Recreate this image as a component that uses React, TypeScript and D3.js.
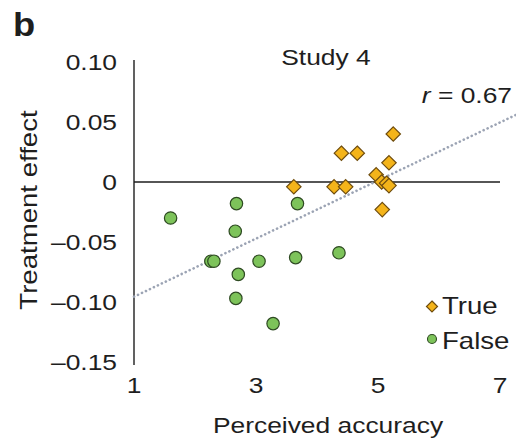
import React from "react";
import * as d3 from "d3";

// Study 4: perceived accuracy vs. treatment effect per headline
const trueX = [3.62, 4.28, 4.47, 4.40, 4.66, 5.25, 5.18, 4.97, 5.06, 5.14, 5.18, 5.07];
const trueY = [-0.004, -0.004, -0.004, 0.024, 0.024, 0.040, 0.016, 0.006, 0.000, -0.001, -0.003, -0.023];
const falseX = [1.60, 2.68, 2.66, 2.26, 2.31, 3.05, 2.71, 2.67, 3.28, 3.65, 3.68, 4.36];
const falseY = [-0.030, -0.018, -0.041, -0.066, -0.066, -0.066, -0.077, -0.097, -0.118, -0.063, -0.018, -0.059];
const xTicks = [1, 3, 5, 7];
const yTicks = [0.1, 0.05, 0, -0.05, -0.1, -0.15];
const fitLine = [
  { x: 1, y: -0.0956 },
  { x: 7.4, y: 0.0593 },
];
const correlation = "0.67";

const W = 516;
const H = 441;
const FONT = "'Liberation Sans', Arial, Helvetica, sans-serif";
const INK = "#1e1e1e";
const ORANGE = "#F4B41A";
const ORANGE_STROKE = "#6E4C0E";
const GREEN = "#7DC35A";
const GREEN_STROKE = "#2E4A22";
const STRETCH = 1.2;

type LabelProps = {
  x: number;
  y: number;
  size: number;
  anchor?: "start" | "middle" | "end";
  rotate?: number;
  stretch?: number;
  weight?: string;
  children: React.ReactNode;
};

// Text with a slightly widened face
function Label({ x, y, size, anchor = "start", rotate = 0, stretch = STRETCH, weight, children }: LabelProps) {
  return (
    <text
      transform={`translate(${x},${y}) rotate(${rotate}) scale(${stretch},1)`}
      fontSize={size}
      textAnchor={anchor}
      fontWeight={weight}
      fill={INK}
    >
      {children}
    </text>
  );
}

export default function App() {
  const x = d3.scaleLinear().domain([1, 7]).range([134, 500]);
  const y = d3.scaleLinear().domain([-0.15, 0.1]).range([362, 62]);
  const diamond = (cx: number, cy: number, r: number) =>
    `M${cx},${cy - r}L${cx + r},${cy}L${cx},${cy + r}L${cx - r},${cy}Z`;
  const line = d3
    .line<{ x: number; y: number }>()
    .x((d) => x(d.x))
    .y((d) => y(d.y));
  const fmt = (v: number) =>
    v === 0 ? "0" : (v < 0 ? "\u2013" : "") + Math.abs(v).toFixed(2);

  return (
    <svg
      width={W}
      height={H}
      style={{ position: "absolute", left: 0, top: 0, background: "#fff" }}
      fontFamily={FONT}
    >
      <defs>
        <clipPath id="plotClip">
          <rect x={0} y={0} width={W} height={H} />
        </clipPath>
      </defs>
      <Label x={13} y={36} size={33} weight="bold" stretch={1.1}>
        b
      </Label>
      <Label x={326} y={65} size={22} anchor="middle">
        Study 4
      </Label>
      <Label x={512} y={103} size={22} anchor="end">
        <tspan fontStyle="italic">r</tspan> = {correlation}
      </Label>

      {/* y axis */}
      <line x1={x(1)} x2={x(1)} y1={y(0.1) - 2} y2={y(-0.15) + 3} stroke={INK} strokeWidth={1.4} />
      {yTicks.map((t) => (
        <Label key={t} x={117} y={y(t) + 8} size={22} anchor="end">
          {fmt(t)}
        </Label>
      ))}
      {xTicks.map((t) => (
        <Label key={t} x={x(t)} y={393} size={22} anchor="middle">
          {t}
        </Label>
      ))}
      <Label x={328} y={433} size={22} anchor="middle">
        Perceived accuracy
      </Label>
      <Label x={37} y={210} size={23} anchor="middle" rotate={-90}>
        Treatment effect
      </Label>

      {/* zero reference */}
      <line x1={x(1)} x2={x(7)} y1={y(0)} y2={y(0)} stroke={INK} strokeWidth={1.4} />

      {/* regression fit */}
      <path
        d={line(fitLine) ?? ""}
        stroke="#9CA4B4"
        strokeWidth={2.6}
        strokeDasharray="0.1 4.3"
        strokeLinecap="round"
        fill="none"
        clipPath="url(#plotClip)"
      />

      {falseX.map((v, i) => (
        <circle
          key={`f${i}`}
          cx={x(v)}
          cy={y(falseY[i])}
          r={6.2}
          fill={GREEN}
          stroke={GREEN_STROKE}
          strokeWidth={1.2}
        />
      ))}
      {trueX.map((v, i) => (
        <path
          key={`t${i}`}
          d={diamond(x(v), y(trueY[i]), 7.2)}
          fill={ORANGE}
          stroke={ORANGE_STROKE}
          strokeWidth={1.2}
        />
      ))}

      {/* legend */}
      <path d={diamond(432, 306.5, 5.5)} fill={ORANGE} stroke={ORANGE_STROKE} strokeWidth={1.2} />
      <Label x={442} y={314} size={23}>
        True
      </Label>
      <circle cx={432} cy={339} r={4.5} fill={GREEN} stroke={GREEN_STROKE} strokeWidth={1.1} />
      <Label x={442} y={349} size={23}>
        False
      </Label>
    </svg>
  );
}
